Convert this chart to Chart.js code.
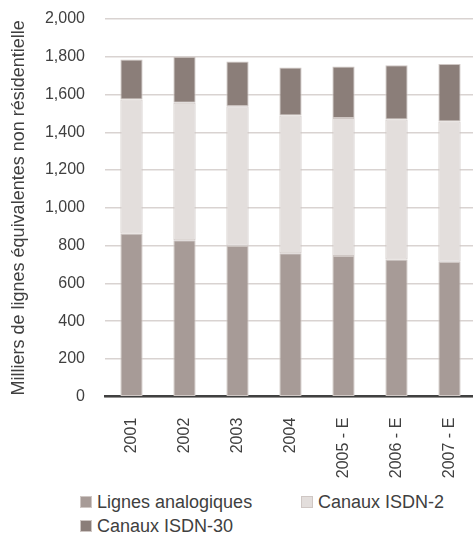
<!DOCTYPE html>
<html>
<head>
<meta charset="utf-8">
<script src="https://cdn.jsdelivr.net/npm/chart.js@4/dist/chart.umd.min.js"></script>
<style>
  html, body { margin: 0; padding: 0; background: #fff; overflow: hidden; }
  body { width: 473px; height: 534px; position: relative; font-family: "Liberation Sans", Arial, sans-serif; }
  #wrap { position: absolute; left: 0; top: 0; width: 480px; height: 480px; }
  .legend { position: absolute; font-size: 18px; color: #404040; white-space: nowrap; }
  .legend .item { position: absolute; display: flex; align-items: center; }
  .legend .box { width: 12px; height: 12px; margin-right: 5px; box-sizing: border-box; border: 1px solid #cfc7c4; }
</style>
</head>
<body>
<div id="wrap"><canvas id="chart" width="480" height="480"></canvas></div>
<div class="legend" id="legend"></div>
<script>
// ── Data ────────────────────────────────────────────────────────────────────
const years = ['2001', '2002', '2003', '2004', '2005 - E', '2006 - E', '2007 - E'];
const analogiques = [864, 829, 799, 760, 745, 727, 714];
const isdn2 = [710, 728, 739, 729, 731, 741, 743];
const isdn30 = [211, 243, 237, 254, 272, 287, 305];
const yTicks = [0, 200, 400, 600, 800, 1000, 1200, 1400, 1600, 1800, 2000];

const seriesNames = ['Lignes analogiques', 'Canaux ISDN-2', 'Canaux ISDN-30'];
const seriesColors = ['#a79b97', '#e3dedc', '#8b7e79'];

const FONT = '"Liberation Sans", Arial, sans-serif';
const TEXT = '#404040';

// ── Chart ───────────────────────────────────────────────────────────────────
const datasets = [analogiques, isdn2, isdn30].map((vals, i) => ({
  label: seriesNames[i],
  data: vals,
  backgroundColor: seriesColors[i],
  borderColor: '#cfc7c4',
  borderWidth: 1,
  borderSkipped: false,
  categoryPercentage: 1,
  barPercentage: 0.42,
}));

new Chart(document.getElementById('chart'), {
  type: 'bar',
  data: { labels: years, datasets },
  options: {
    responsive: false,
    animation: false,
    layout: { padding: { top: 19, right: 4, bottom: 0, left: 0 } },
    plugins: { legend: { display: false }, tooltip: { enabled: false } },
    scales: {
      x: {
        stacked: true,
        grid: { display: false, drawTicks: false },
        border: { color: '#404040', width: 2.5 },
        ticks: {
          color: TEXT,
          font: { family: FONT, size: 16 },
          minRotation: 90,
          maxRotation: 90,
          padding: 21,
        },
        afterFit: s => { s.height = 83.3; s.paddingLeft = 0; s.paddingRight = 0; },
      },
      y: {
        stacked: true,
        min: 0,
        max: 2000,
        afterBuildTicks: s => { s.ticks = yTicks.map(v => ({ value: v })); },
        grid: { color: '#d9d3d1', lineWidth: 1.5, drawTicks: false },
        border: { display: false },
        ticks: {
          color: TEXT,
          font: { family: FONT, size: 16 },
          padding: 20,
          callback: v => v.toLocaleString('en-US'),
        },
        title: {
          display: true,
          text: 'Milliers de lignes équivalentes non résidentielle',
          color: TEXT,
          font: { family: FONT, size: 18 },
          padding: { top: 8, bottom: 0 },
        },
        afterFit: s => { s.width = 105; s.paddingTop = 0; s.paddingBottom = 0; },
      },
    },
  },
});

// ── Legend ──────────────────────────────────────────────────────────────────
const legendPos = [[80, 502], [301, 502], [80, 526]];
document.getElementById('legend').innerHTML = seriesNames.map((name, i) =>
  `<div class="item" style="left:${legendPos[i][0]}px;top:${legendPos[i][1] - 10}px;height:20px">
     <span class="box" style="background:${seriesColors[i]}"></span><span>${name}</span>
   </div>`).join('');
</script>
</body>
</html>
